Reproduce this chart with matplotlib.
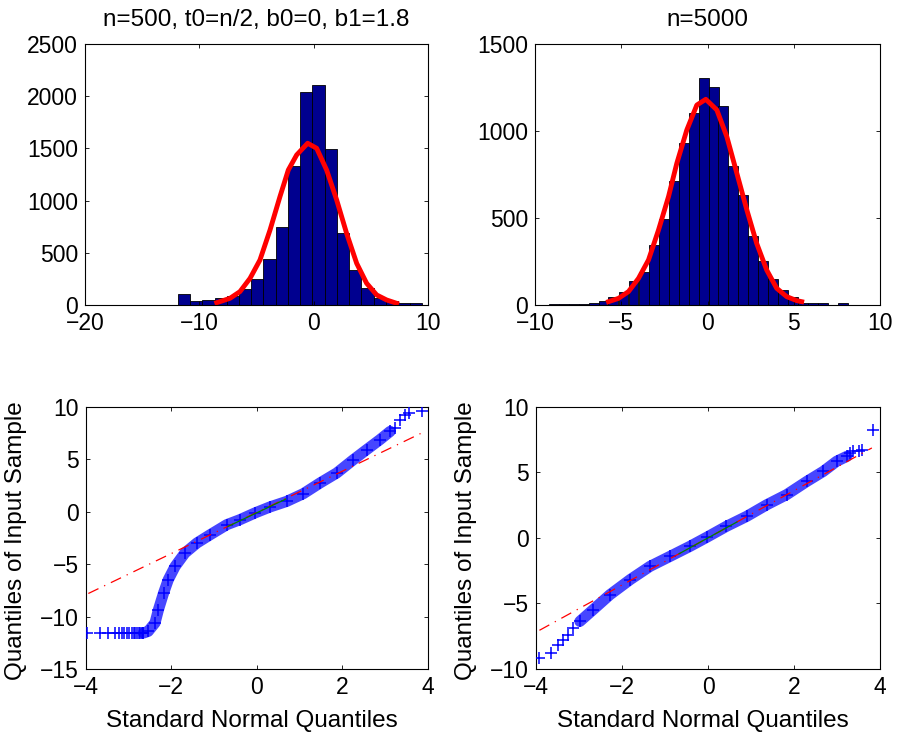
import matplotlib
matplotlib.use("Agg")
import matplotlib.pyplot as plt

plt.rcParams["font.family"] = ["Liberation Sans", "DejaVu Sans"]

# --- top left histogram (n=500) ---
hist1_centers = [-11.35, -10.28, -9.21, -8.14, -7.07, -6.00, -4.93, -3.86, -2.79, -1.72,
                 -0.65, 0.42, 1.49, 2.56, 3.63, 4.70, 5.77, 6.84, 7.91, 8.98]
hist1_counts = [102, 35, 51, 70, 90, 156, 246, 437, 750, 1331,
                2037, 2104, 1494, 686, 335, 160, 70, 42, 19, 19]
hist1_width = 1.07
fit1_x = [-8.48, -7.32, -6.45, -5.57, -4.70, -3.82, -2.95, -2.22, -1.49, -0.53,
          0.26, 1.13, 2.01, 2.88, 3.76, 4.63, 5.51, 6.38, 7.26]
fit1_y = [22, 64, 128, 255, 431, 718, 1038, 1293, 1437, 1549,
          1501, 1293, 1006, 686, 399, 208, 96, 48, 16]

# --- top right histogram (n=5000) ---
hist2_centers = [-8.92, -8.34, -7.76, -7.18, -6.60, -6.02, -5.45, -4.87, -4.29, -3.71,
                 -3.13, -2.55, -1.97, -1.39, -0.81, -0.23, 0.35, 0.92, 1.50, 2.08,
                 2.66, 3.24, 3.82, 4.40, 4.97, 5.55, 6.13, 6.71, 7.29, 7.87]
hist2_counts = [8, 8, 8, 8, 10, 23, 48, 73, 138, 188,
                345, 492, 713, 933, 1102, 1303, 1251, 1146, 799, 632,
                398, 255, 149, 86, 48, 13, 10, 10, 0, 10]
hist2_width = 0.579
fit2_x = [-5.74, -5.16, -4.58, -4.00, -3.42, -2.84, -2.26, -1.78, -1.20, -0.62, -0.10,
          0.54, 1.12, 1.70, 2.28, 2.85, 3.43, 4.01, 4.59, 5.17, 5.46]
fit2_y = [19, 38, 77, 153, 259, 431, 623, 814, 1006, 1149, 1182,
          1121, 967, 757, 546, 354, 201, 96, 48, 25, 19]

# --- bottom left QQ plot ---
qq1_lo_x = [-3.98, -3.67, -3.47, -3.31, -3.23, -3.16, -3.10, -3.04, -2.98, -2.93,
            -2.88, -2.84, -2.80, -2.76, -2.72, -2.69, -2.66]
qq1_lo_y = [-11.57] * 17
qq1_band_x = [-2.65, -2.54, -2.38, -2.30, -2.18, -2.07, -1.91, -1.68, -1.40, -1.09,
              -0.70, -0.39, -0.04, 0.31, 0.70, 1.09, 1.48, 1.87, 2.26, 2.57, 2.88, 3.12]
qq1_band_y = [-11.57, -11.41, -10.6, -9.34, -7.75, -6.48, -5.21, -3.93, -2.98, -2.19,
              -1.23, -0.75, -0.11, 0.46, 0.99, 1.73, 2.75, 3.70, 4.97, 5.93, 6.88, 7.67]
qq1_hi_x = [3.24, 3.35, 3.47, 3.55, 3.86]
qq1_hi_y = [7.99, 8.79, 9.27, 9.43, 9.60]
ref1_x = [-3.94, 3.86]
ref1_y = [-7.8, 7.52]
quart1_x = [-0.674, 0.674]
quart1_y = [-1.40, 1.20]

# --- bottom right QQ plot ---
qq2_lo_x = [-3.92, -3.64, -3.48, -3.37, -3.25, -3.13]
qq2_lo_y = [-9.15, -8.78, -8.15, -7.76, -7.38, -6.87]
qq2_band_x = [-2.98, -2.67, -2.28, -1.81, -1.35, -0.88, -0.42, -0.03, 0.43, 0.90,
              1.37, 1.83, 2.30, 2.68, 2.99, 3.23]
qq2_band_y = [-6.37, -5.47, -4.33, -3.18, -2.17, -1.40, -0.64, 0.05, 0.89, 1.65,
              2.54, 3.31, 4.32, 5.08, 5.85, 6.23]
qq2_hi_x = [3.30, 3.38, 3.50, 3.57, 3.84]
qq2_hi_y = [6.49, 6.61, 6.61, 6.74, 8.21]
ref2_x = [-3.92, 3.81]
ref2_y = [-7.05, 6.87]
quart2_x = [-0.674, 0.674]
quart2_y = [-1.21, 1.22]

TICK_FS = 16.5
LABEL_FS = 17.5
BAR_COLOR = "#00008f"


def style_axes(ax):
    ax.tick_params(direction="in", top=True, right=True, length=3.2, width=0.6,
                   labelsize=TICK_FS, pad=5)
    for spine in ax.spines.values():
        spine.set_linewidth(0.8)


def draw_hist(ax, centers, counts, width, fit_x, fit_y):
    ax.bar(centers, counts, width=width, color=BAR_COLOR, edgecolor="black",
           linewidth=0.6)
    ax.plot(fit_x, fit_y, color="red", lw=3.5, solid_joinstyle="round")


def draw_qq(ax, lo, band, hi, ref, quart):
    # the dense run of markers shows as a thick band
    ax.plot(band[0], band[1], color="#4646ff", lw=8, solid_capstyle="round",
            solid_joinstyle="round", zorder=2)
    for xs, ys in (lo, band, hi):
        ax.plot(xs, ys, "+", color="blue", ms=9, mew=1.1, zorder=3)
    ax.plot(ref[0], ref[1], color="red", lw=0.9, linestyle=(0, (9, 5, 1, 5)), zorder=4)
    ax.plot(quart[0], quart[1], color="green", lw=0.9, zorder=4)
    ax.set_xlim(-4, 4)
    ax.set_xticks([-4, -2, 0, 2, 4])
    ax.set_xlabel("Standard Normal Quantiles", fontsize=LABEL_FS)
    ax.set_ylabel("Quantiles of Input Sample", fontsize=LABEL_FS)
    ax.xaxis.set_label_coords(0.485, -0.155)
    ax.yaxis.set_label_coords(-0.172, 0.49)


fig = plt.figure(figsize=(8.99, 7.34), dpi=100)

ax1 = fig.add_axes([0.0946, 0.5845, 0.3815, 0.3556])
draw_hist(ax1, hist1_centers, hist1_counts, hist1_width, fit1_x, fit1_y)
ax1.set_xlim(-20, 10)
ax1.set_ylim(0, 2500)
ax1.set_xticks([-20, -10, 0, 10])
ax1.set_yticks([0, 500, 1000, 1500, 2000, 2500])
ax1.set_title("n=500, t0=n/2, b0=0, b1=1.8", fontsize=17.5, pad=13)
style_axes(ax1)

ax2 = fig.add_axes([0.5951, 0.5845, 0.3838, 0.3556])
draw_hist(ax2, hist2_centers, hist2_counts, hist2_width, fit2_x, fit2_y)
ax2.set_xlim(-10, 10)
ax2.set_ylim(0, 1500)
ax2.set_xticks([-10, -5, 0, 5, 10])
ax2.set_yticks([0, 500, 1000, 1500])
ax2.set_title("n=5000", fontsize=17.5, pad=13)
style_axes(ax2)

ax3 = fig.add_axes([0.0954, 0.0886, 0.3805, 0.357])
draw_qq(ax3, (qq1_lo_x, qq1_lo_y), (qq1_band_x, qq1_band_y), (qq1_hi_x, qq1_hi_y),
        (ref1_x, ref1_y), (quart1_x, quart1_y))
ax3.set_ylim(-15, 10)
ax3.set_yticks([-15, -10, -5, 0, 5, 10])
style_axes(ax3)

ax4 = fig.add_axes([0.5962, 0.0886, 0.3827, 0.357])
draw_qq(ax4, (qq2_lo_x, qq2_lo_y), (qq2_band_x, qq2_band_y), (qq2_hi_x, qq2_hi_y),
        (ref2_x, ref2_y), (quart2_x, quart2_y))
ax4.set_ylim(-10, 10)
ax4.set_yticks([-10, -5, 0, 5, 10])
style_axes(ax4)

fig.savefig("out.png", dpi=100, facecolor="white")
